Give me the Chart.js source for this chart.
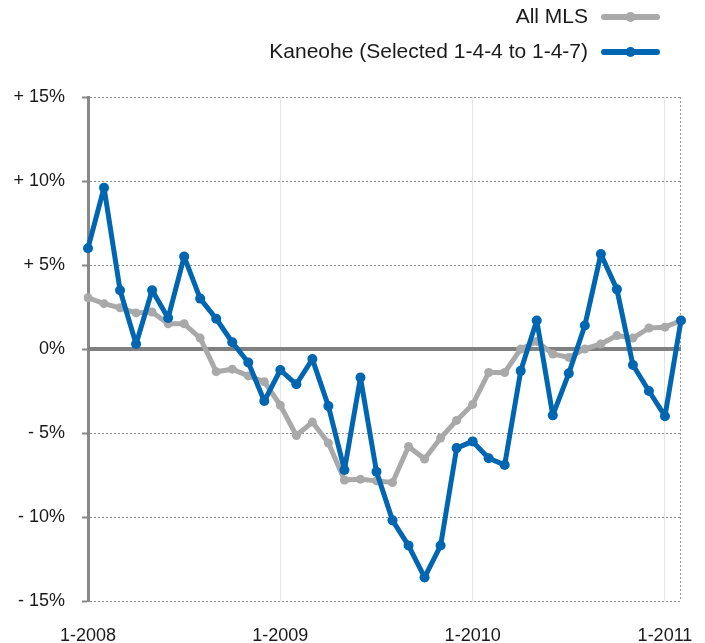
<!DOCTYPE html>
<html lang="en">
<head>
    <title>Kaneohe vs All MLS</title>
    <script src="https://cdn.jsdelivr.net/npm/chart.js@4.4.1/dist/chart.umd.min.js"></script>
    <style>
        html, body { margin: 0; padding: 0; background: #fff; }
        #wrap { width: 705px; height: 643px; }
    </style>
</head>
<body>
<div id="wrap"><canvas id="monGraphique"></canvas></div>

<script>
    // months, Jan 2008 -> Feb 2011
    var mois = ['1-2008', '2-2008', '3-2008', '4-2008', '5-2008', '6-2008', '7-2008', '8-2008', '9-2008', '10-2008', '11-2008', '12-2008',
        '1-2009', '2-2009', '3-2009', '4-2009', '5-2009', '6-2009', '7-2009', '8-2009', '9-2009', '10-2009', '11-2009', '12-2009',
        '1-2010', '2-2010', '3-2010', '4-2010', '5-2010', '6-2010', '7-2010', '8-2010', '9-2010', '10-2010', '11-2010', '12-2010',
        '1-2011', '2-2011'];
    var allMLS = [3.05, 2.7, 2.45, 2.15, 2.2, 1.5, 1.5, 0.65, -1.35, -1.2, -1.6, -1.95,
        -3.35, -5.15, -4.35, -5.6, -7.8, -7.75, -7.85, -7.95, -5.8, -6.55, -5.3, -4.25,
        -3.3, -1.4, -1.4, 0.0, 0.45, -0.3, -0.5, 0.0, 0.3, 0.8, 0.65, 1.25,
        1.3, 1.7];
    var kaneohe = [6.0, 9.6, 3.5, 0.3, 3.5, 1.85, 5.5, 3.0, 1.8, 0.4, -0.8, -3.1,
        -1.25, -2.1, -0.6, -3.4, -7.2, -1.7, -7.3, -10.2, -11.7, -13.6, -11.7, -5.9,
        -5.5, -6.5, -6.9, -1.3, 1.7, -3.95, -1.45, 1.4, 5.65, 3.55, -0.95, -2.5,
        -4.0, 1.7];
    var yTicks = [-15, -10, -5, 0, 5, 10, 15];

    var GRIS = '#a9a9a9';
    var BLEU = '#0066b1';
    var POLICE = '"Liberation Sans", Arial, Helvetica, sans-serif';

    // zero line, right dashed border and the legend on top
    var decor = {
        id: 'decor',
        beforeDatasetsDraw: function (chart) {
            var c = chart.ctx, a = chart.chartArea, y = chart.scales.y;
            c.save();
            c.strokeStyle = '#999';
            c.lineWidth = 1;
            c.setLineDash([2, 2]);
            c.beginPath();
            c.moveTo(a.right - 0.5, a.top);
            c.lineTo(a.right - 0.5, a.bottom);
            c.stroke();
            c.setLineDash([]);
            c.strokeStyle = '#808080';
            c.lineWidth = 4;
            var y0 = y.getPixelForValue(0);
            c.beginPath();
            c.moveTo(a.left, y0);
            c.lineTo(a.right, y0);
            c.stroke();
            c.restore();
        },
        afterDraw: function (chart) {
            var c = chart.ctx;
            var rows = [{ label: 'All MLS', color: GRIS, y: 17 }, { label: 'Kaneohe (Selected 1-4-4 to 1-4-7)', color: BLEU, y: 52 }];
            c.save();
            rows.forEach(function (r) {
                c.font = '21px ' + POLICE;
                c.fillStyle = '#1a1a1a';
                c.textAlign = 'right';
                c.textBaseline = 'middle';
                c.fillText(r.label, 588, r.y);
                c.strokeStyle = r.color;
                c.lineWidth = 6;
                c.lineCap = 'round';
                c.beginPath();
                c.moveTo(604, r.y);
                c.lineTo(657, r.y);
                c.stroke();
                c.fillStyle = r.color;
                c.beginPath();
                c.arc(630.5, r.y, 5, 0, Math.PI * 2);
                c.fill();
            });
            c.restore();
        }
    };

    var ctx = document.getElementById('monGraphique').getContext('2d');
    var chart = new Chart(ctx, {
        type: 'line',
        data: {
            labels: mois,
            datasets: [{
                label: 'All MLS',
                data: allMLS,
                borderColor: GRIS,
                backgroundColor: GRIS,
                borderWidth: 5,
                borderJoinStyle: 'round',
                borderCapStyle: 'round',
                pointRadius: 4.5,
                pointBorderWidth: 0,
                tension: 0,
                order: 2
            }, {
                label: 'Kaneohe (Selected 1-4-4 to 1-4-7)',
                data: kaneohe,
                borderColor: BLEU,
                backgroundColor: BLEU,
                borderWidth: 5,
                borderJoinStyle: 'round',
                borderCapStyle: 'round',
                pointRadius: 5,
                pointBorderWidth: 0,
                tension: 0,
                order: 1
            }]
        },
        options: {
            responsive: true,
            maintainAspectRatio: false,
            animation: false,
            layout: { padding: { top: 97, right: 23, left: 0, bottom: 0 } },
            plugins: {
                legend: { display: false },
                tooltip: { enabled: false }
            },
            scales: {
                x: {
                    offset: false,
                    afterFit: function (s) { s.height = 42; },
                    border: { display: false },
                    grid: {
                        drawTicks: false,
                        color: function (c) {
                            return (c.index > 0 && c.index % 12 === 0) ? '#e4e4e4' : 'rgba(0,0,0,0)';
                        },
                        lineWidth: 1
                    },
                    ticks: {
                        autoSkip: false,
                        maxRotation: 0,
                        padding: 24,
                        color: '#1a1a1a',
                        font: { family: POLICE, size: 18 },
                        callback: function (v, i) { return i % 12 === 0 ? mois[i] : ''; }
                    }
                },
                y: {
                    min: yTicks[0],
                    max: yTicks[yTicks.length - 1],
                    afterFit: function (s) { s.width = 88; },
                    afterBuildTicks: function (s) { s.ticks = yTicks.map(function (v) { return { value: v }; }); },
                    // in v4 border.dash is what dashes the grid lines
                    border: { display: true, color: '#888', width: 3, dash: [2, 2] },
                    grid: {
                        color: '#8f8f8f',
                        lineWidth: 1,
                        tickLength: 6,
                        tickColor: '#888',
                        tickWidth: 2,
                        tickBorderDash: []
                    },
                    ticks: {
                        padding: 17,
                        color: '#1a1a1a',
                        font: { family: POLICE, size: 18 },
                        callback: function (v) {
                            if (v > 0) return '+ ' + v + '%';
                            if (v < 0) return '- ' + Math.abs(v) + '%';
                            return '0%';
                        }
                    }
                }
            }
        },
        plugins: [decor]
    });
</script>
</body>
</html>
